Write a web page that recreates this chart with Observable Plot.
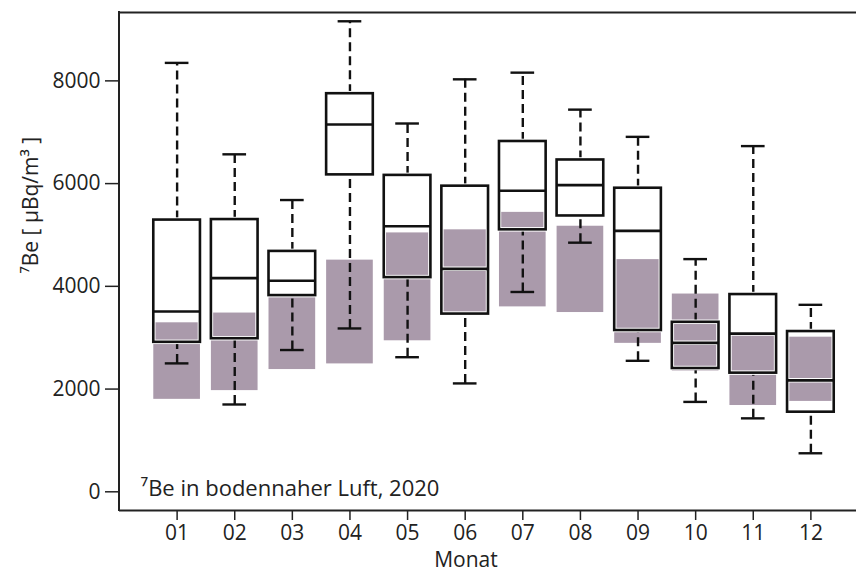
<!DOCTYPE html>
<html>
<head>
<meta charset="utf-8">
<script src="https://cdn.jsdelivr.net/npm/d3@7"></script>
<script src="https://cdn.jsdelivr.net/npm/@observablehq/plot@0.6"></script>
<style>
  html, body { margin: 0; padding: 0; background: #fff; overflow: hidden; }
  #chart { width: 856px; height: 576px; overflow: hidden; }
  #chart svg { display: block; overflow: hidden !important; }
</style>
</head>
<body>
<div id="chart"></div>
<script>
const months = ["01","02","03","04","05","06","07","08","09","10","11","12"];
// 2020 box plots
const whiskerLow  = [2500, 1700, 2760, 3180, 2620, 2110, 3890, 4850, 2550, 1750, 1430, 750];
const q1          = [2910, 2980, 3820, 6170, 4170, 3460, 5100, 5370, 3140, 2400, 2310, 1550];
const median      = [3510, 4160, 4110, 7150, 5170, 4340, 5860, 5970, 5080, 2900, 3080, 2170];
const q3          = [5290, 5300, 4680, 7750, 6160, 5950, 6820, 6460, 5910, 3300, 3840, 3120];
const whiskerHigh = [8350, 6570, 5680, 9160, 7170, 8030, 8160, 7440, 6910, 4530, 6730, 3640];
// shaded reference range
const rangeLow    = [1800, 1970, 2380, 2490, 2940, 3480, 3600, 3490, 2890, 2350, 1680, 1760];
const rangeHigh   = [3290, 3480, 3780, 4510, 5040, 5100, 5440, 5170, 4520, 3850, 3060, 3010];
const yTicks = [0, 2000, 4000, 6000, 8000];
const yDomain = [-364, 9331];
const yLabel = "⁷Be [ µBq/m³ ]";
const xLabel = "Monat";
const note = "⁷Be in bodennaher Luft, 2020";

const rows = months.map((m, i) => ({
  month: m, lo: whiskerLow[i], q1: q1[i], med: median[i], q3: q3[i], hi: whiskerHigh[i],
  rlo: rangeLow[i], rhi: rangeHigh[i]
}));

const font = "Open Sans";
const fs = 21;

// left edge of the plot frame (top/bottom drawn as rules; right edge lies outside the picture)
function leftEdge(index, scales, values, dims) {
  const line = document.createElementNS("http://www.w3.org/2000/svg", "line");
  line.setAttribute("x1", dims.marginLeft);
  line.setAttribute("x2", dims.marginLeft);
  line.setAttribute("y1", dims.marginTop - 1);
  line.setAttribute("y2", dims.height - dims.marginBottom + 1);
  line.setAttribute("stroke", "#222");
  line.setAttribute("stroke-width", 2);
  return line;
}

const chart = Plot.plot({
  width: 856,
  height: 576,
  marginLeft: 119,
  marginRight: 0,
  marginTop: 12,
  marginBottom: 66,
  style: { fontFamily: font, fontSize: fs + "px", color: "#222", background: "#fff", maxWidth: "none", overflow: "hidden" },
  x: { type: "band", domain: months, range: [119, 868], round: false, paddingInner: 0.19, paddingOuter: 0.595, label: null },
  y: { domain: yDomain, label: null },
  marks: [
    Plot.barY(rows, { x: "month", y1: "rlo", y2: "rhi", fill: "#aa9aab" }),
    Plot.ruleX(rows, { x: "month", y1: "lo", y2: "q1", stroke: "#111", strokeWidth: 2.4, strokeDasharray: "9,5" }),
    Plot.ruleX(rows, { x: "month", y1: "q3", y2: "hi", stroke: "#111", strokeWidth: 2.4, strokeDasharray: "9,5" }),
    Plot.tickY(rows, { x: "month", y: "lo", stroke: "#111", strokeWidth: 2.4, insetLeft: 11.5, insetRight: 11.5 }),
    Plot.tickY(rows, { x: "month", y: "hi", stroke: "#111", strokeWidth: 2.4, insetLeft: 11.5, insetRight: 11.5 }),
    Plot.barY(rows, { x: "month", y1: "q1", y2: "q3", fill: "none", stroke: "#fff", strokeWidth: 4.5 }),
    Plot.tickY(rows, { x: "month", y: "med", stroke: "#fff", strokeWidth: 4.5 }),
    Plot.barY(rows, { x: "month", y1: "q1", y2: "q3", fill: "none", stroke: "#111", strokeWidth: 2.6 }),
    Plot.tickY(rows, { x: "month", y: "med", stroke: "#111", strokeWidth: 2.6 }),
    Plot.ruleY(yDomain, { stroke: "#222", strokeWidth: 2 }),
    leftEdge,
    Plot.axisY({ ticks: yTicks, tickSize: 14, tickPadding: 5, label: null, fontSize: fs, tickFormat: d => String(d), stroke: "#222", strokeWidth: 1.5 }),
    Plot.axisX({ tickSize: 10, tickPadding: 5, label: null, fontSize: fs, stroke: "#222", strokeWidth: 1.5 }),
    Plot.text([yLabel], { frameAnchor: "left", rotate: -90, dx: -88, dy: 12, fontSize: fs, fill: "#222" }),
    Plot.text([xLabel], { frameAnchor: "bottom", dx: -22, dy: 56, fontSize: fs, fill: "#222" }),
    Plot.text([note], { frameAnchor: "bottom-left", textAnchor: "start", lineAnchor: "bottom", dx: 21, dy: -15, fontSize: 22, fill: "#222" })
  ]
});
document.getElementById("chart").appendChild(chart);
</script>
</body>
</html>
